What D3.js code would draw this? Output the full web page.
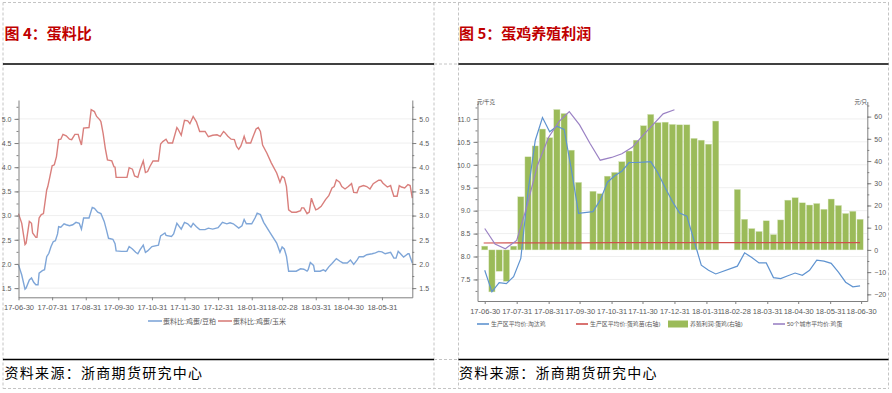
<!DOCTYPE html>
<html>
<head>
<meta charset="utf-8">
<script src="https://cdn.jsdelivr.net/npm/d3@7/dist/d3.min.js"></script>
<style>
  body { margin: 0; background: #fff; }
  svg { display: block; font-family: "Liberation Sans", "Noto Sans CJK SC", sans-serif; }
</style>
</head>
<body>
<div id="visual"></div>
<script>
// ---- data ----

// 图4 蛋料比 (daily, both on the same scale)
const soyRatio = [
  ["2017-06-30",1.98],["2017-07-03",1.77],["2017-07-06",1.48],["2017-07-07",1.50],["2017-07-10",1.67],
  ["2017-07-12",1.71],["2017-07-14",1.62],["2017-07-16",1.57],["2017-07-18",1.57],["2017-07-19",1.81],
  ["2017-07-22",1.86],["2017-07-24",1.88],["2017-07-26",2.15],["2017-07-28",2.22],["2017-07-30",2.36],
  ["2017-08-01",2.46],["2017-08-03",2.48],["2017-08-05",2.62],["2017-08-06",2.77],["2017-08-08",2.76],
  ["2017-08-11",2.83],["2017-08-13",2.81],["2017-08-16",2.79],["2017-08-19",2.81],["2017-08-22",2.86],
  ["2017-08-25",2.84],["2017-08-27",2.72],["2017-08-29",2.95],["2017-09-03",2.95],["2017-09-06",3.17],
  ["2017-09-08",3.15],["2017-09-11",3.07],["2017-09-14",3.04],["2017-09-17",2.88],["2017-09-19",2.71],
  ["2017-09-21",2.53],["2017-09-25",2.51],["2017-09-27",2.42],["2017-09-28",2.27],["2017-10-03",2.26],
  ["2017-10-08",2.26],["2017-10-10",2.36],["2017-10-13",2.31],["2017-10-16",2.24],["2017-10-18",2.21],
  ["2017-10-20",2.29],["2017-10-23",2.39],["2017-10-25",2.24],["2017-10-27",2.27],["2017-10-31",2.36],
  ["2017-11-06",2.39],["2017-11-08",2.58],["2017-11-12",2.64],["2017-11-13",2.59],["2017-11-18",2.57],
  ["2017-11-20",2.62],["2017-11-23",2.84],["2017-11-27",2.72],["2017-11-30",2.86],["2017-12-03",2.83],
  ["2017-12-06",2.76],["2017-12-08",2.84],["2017-12-11",2.77],["2017-12-14",2.71],["2017-12-19",2.71],
  ["2017-12-22",2.74],["2017-12-26",2.72],["2017-12-31",2.75],["2018-01-04",2.86],["2018-01-08",2.83],
  ["2018-01-11",2.85],["2018-01-14",2.83],["2018-01-19",2.74],["2018-01-22",2.79],["2018-01-24",2.92],
  ["2018-01-26",2.83],["2018-01-31",2.83],["2018-02-03",2.95],["2018-02-05",3.05],["2018-02-08",3.02],
  ["2018-02-11",2.86],["2018-02-17",2.64],["2018-02-23",2.43],["2018-02-26",2.24],["2018-02-28",2.35],
  ["2018-03-02",2.31],["2018-03-04",2.16],["2018-03-06",1.85],["2018-03-13",1.85],["2018-03-17",1.90],
  ["2018-03-20",1.89],["2018-03-23",1.85],["2018-03-24",1.88],["2018-03-26",2.03],["2018-03-29",1.97],
  ["2018-03-30",1.85],["2018-04-04",1.85],["2018-04-07",1.88],["2018-04-09",1.85],["2018-04-12",1.94],
  ["2018-04-15",2.01],["2018-04-19",2.11],["2018-04-22",2.06],["2018-04-25",2.02],["2018-04-29",2.02],
  ["2018-05-02",2.08],["2018-05-05",1.99],["2018-05-08",2.08],["2018-05-10",2.15],["2018-05-14",2.15],
  ["2018-05-17",2.19],["2018-05-22",2.21],["2018-05-25",2.23],["2018-05-28",2.26],["2018-05-31",2.25],
  ["2018-06-03",2.21],["2018-06-08",2.24],["2018-06-11",2.12],["2018-06-13",2.12],["2018-06-15",2.26],
  ["2018-06-18",2.19],["2018-06-20",2.14],["2018-06-24",2.21],["2018-06-25",2.21],["2018-06-28",2.02]
];
const cornRatio = [
  ["2017-06-30",3.04],["2017-07-03",2.84],["2017-07-06",2.40],["2017-07-07",2.43],["2017-07-10",2.88],
  ["2017-07-12",2.84],["2017-07-13",2.64],["2017-07-16",2.55],["2017-07-17",2.55],["2017-07-19",2.95],
  ["2017-07-21",3.02],["2017-07-23",3.04],["2017-07-26",3.53],["2017-07-27",3.60],["2017-07-29",3.81],
  ["2017-07-31",4.03],["2017-08-02",4.05],["2017-08-04",4.22],["2017-08-06",4.57],["2017-08-08",4.58],
  ["2017-08-10",4.68],["2017-08-13",4.65],["2017-08-16",4.58],["2017-08-18",4.57],["2017-08-21",4.68],
  ["2017-08-24",4.68],["2017-08-25",4.60],["2017-08-27",4.46],["2017-08-29",4.81],["2017-09-03",4.82],
  ["2017-09-05",5.19],["2017-09-08",5.15],["2017-09-10",5.05],["2017-09-13",4.98],["2017-09-14",4.94],
  ["2017-09-16",4.70],["2017-09-18",4.39],["2017-09-20",4.15],["2017-09-24",4.13],["2017-09-26",4.01],
  ["2017-09-27",4.00],["2017-09-28",3.79],["2017-10-08",3.79],["2017-10-10",3.99],["2017-10-13",3.96],
  ["2017-10-15",3.82],["2017-10-18",3.79],["2017-10-20",3.95],["2017-10-23",4.13],["2017-10-25",3.89],
  ["2017-10-27",3.91],["2017-10-29",4.01],["2017-11-01",4.13],["2017-11-06",4.13],["2017-11-08",4.48],
  ["2017-11-10",4.53],["2017-11-13",4.58],["2017-11-15",4.50],["2017-11-19",4.50],["2017-11-23",4.82],
  ["2017-11-24",4.79],["2017-11-27",4.66],["2017-11-30",4.97],["2017-12-03",4.96],["2017-12-05",4.90],
  ["2017-12-08",5.05],["2017-12-11",4.94],["2017-12-14",4.74],["2017-12-19",4.74],["2017-12-22",4.63],
  ["2017-12-26",4.66],["2017-12-30",4.67],["2018-01-02",4.64],["2018-01-05",4.74],["2018-01-06",4.72],
  ["2018-01-09",4.64],["2018-01-12",4.58],["2018-01-15",4.57],["2018-01-17",4.43],["2018-01-19",4.37],
  ["2018-01-21",4.44],["2018-01-23",4.57],["2018-01-24",4.64],["2018-01-26",4.50],["2018-01-30",4.50],
  ["2018-02-01",4.62],["2018-02-04",4.79],["2018-02-06",4.82],["2018-02-08",4.74],["2018-02-10",4.46],
  ["2018-02-14",4.29],["2018-02-18",4.09],["2018-02-23",3.88],["2018-02-26",3.69],["2018-02-28",3.81],
  ["2018-03-02",3.78],["2018-03-04",3.60],["2018-03-06",3.12],["2018-03-09",3.07],["2018-03-13",3.07],
  ["2018-03-17",3.10],["2018-03-18",3.16],["2018-03-20",3.16],["2018-03-23",3.04],["2018-03-25",3.07],
  ["2018-03-27",3.36],["2018-03-29",3.23],["2018-03-31",3.12],["2018-04-02",3.14],["2018-04-05",3.19],
  ["2018-04-09",3.33],["2018-04-12",3.41],["2018-04-15",3.57],["2018-04-17",3.60],["2018-04-19",3.74],
  ["2018-04-22",3.69],["2018-04-24",3.60],["2018-04-27",3.55],["2018-04-30",3.60],["2018-05-03",3.66],
  ["2018-05-05",3.48],["2018-05-08",3.47],["2018-05-10",3.59],["2018-05-14",3.62],["2018-05-17",3.60],
  ["2018-05-20",3.55],["2018-05-23",3.66],["2018-05-28",3.73],["2018-05-30",3.73],["2018-06-01",3.67],
  ["2018-06-05",3.59],["2018-06-08",3.62],["2018-06-09",3.54],["2018-06-11",3.40],["2018-06-14",3.40],
  ["2018-06-16",3.62],["2018-06-18",3.59],["2018-06-21",3.57],["2018-06-24",3.64],["2018-06-26",3.62],
  ["2018-06-28",3.36]
];
const ratioTicks = [1.5, 2.0, 2.5, 3.0, 3.5, 4.0, 4.5, 5.0];
const ratioLegend = ["蛋料比:鸡蛋/豆粕", "蛋料比:鸡蛋/玉米"];

const monthEnds = ["2017-06-30","2017-07-31","2017-08-31","2017-09-30","2017-10-31","2017-11-30",
  "2017-12-31","2018-01-31","2018-02-28","2018-03-31","2018-04-30","2018-05-31","2018-06-30"];

// 图5 蛋鸡养殖利润 (weekly; right axis 元/只)
const layerProfit = [
  ["2017-06-30",1.7],["2017-07-07",-18.9],["2017-07-14",-9.6],["2017-07-21",-14.1],["2017-07-28",1.7],
  ["2017-08-04",23.9],["2017-08-11",41.9],["2017-08-18",46.8],["2017-08-25",54.4],["2017-09-01",50.5],
  ["2017-09-08",63.2],["2017-09-15",61.4],["2017-09-22",44.9],["2017-09-29",30.4],["2017-10-13",26.4],
  ["2017-10-20",25.3],["2017-10-27",33.2],["2017-11-03",34.9],["2017-11-10",39.7],["2017-11-17",44.5],
  ["2017-11-24",49.4],["2017-12-01",55.9],["2017-12-08",61.0],["2017-12-15",57.3],["2017-12-22",57.5],
  ["2017-12-29",56.5],["2018-01-05",56.3],["2018-01-12",56.3],["2018-01-19",50.2],["2018-01-26",49.4],
  ["2018-02-02",47.6],["2018-02-09",58.0],["2018-03-02",27.2],["2018-03-09",13.8],["2018-03-16",9.6],
  ["2018-03-23",8.3],["2018-03-30",13.1],["2018-04-06",6.9],["2018-04-13",13.5],["2018-04-20",22.4],
  ["2018-04-27",23.5],["2018-05-04",21.2],["2018-05-11",20.2],["2018-05-18",20.9],["2018-05-25",18.3],
  ["2018-06-01",22.9],["2018-06-08",20.0],["2018-06-15",16.4],["2018-06-22",17.4],["2018-06-29",13.8]
];
// left axis 元/千克
const cullHenPrice = [
  ["2017-06-30",7.70],["2017-07-07",7.23],["2017-07-14",7.43],["2017-07-21",7.41],["2017-07-28",7.56],
  ["2017-08-04",7.96],["2017-08-11",9.42],["2017-08-18",10.53],["2017-08-25",11.03],["2017-09-01",10.72],
  ["2017-09-08",10.84],["2017-09-15",10.77],["2017-09-22",9.90],["2017-09-29",8.94],["2017-10-13",8.98],
  ["2017-10-20",9.23],["2017-10-27",9.62],["2017-11-03",9.76],["2017-11-10",9.86],["2017-11-17",10.05],
  ["2017-11-24",10.05],["2017-12-01",10.06],["2017-12-08",10.07],["2017-12-15",9.82],["2017-12-22",9.50],
  ["2017-12-29",9.20],["2018-01-05",8.95],["2018-01-12",8.88],["2018-01-19",8.35],["2018-01-26",7.81],
  ["2018-02-02",7.70],["2018-02-09",7.62],["2018-03-02",7.79],["2018-03-09",8.08],["2018-03-16",7.98],
  ["2018-03-23",7.86],["2018-03-30",7.86],["2018-04-06",7.54],["2018-04-13",7.52],["2018-04-20",7.58],
  ["2018-04-27",7.64],["2018-05-04",7.59],["2018-05-11",7.70],["2018-05-18",7.92],["2018-05-25",7.90],
  ["2018-06-01",7.85],["2018-06-08",7.66],["2018-06-15",7.44],["2018-06-22",7.34],["2018-06-29",7.36]
];
const eggPrice50 = [
  ["2017-06-30",8.61],["2017-07-10",8.27],["2017-07-20",8.17],["2017-07-31",8.35],["2017-08-10",9.10],
  ["2017-08-20",9.98],["2017-08-31",10.60],["2017-09-10",10.94],["2017-09-20",11.16],["2017-09-30",10.87],
  ["2017-10-10",10.47],["2017-10-20",10.10],["2017-10-31",10.16],["2017-11-10",10.24],["2017-11-20",10.38],
  ["2017-11-30",10.63],["2017-12-10",10.87],["2017-12-20",11.11],["2017-12-31",11.20]
];
// right axis 元/只
const chickPrice = [
  ["2017-06-29",3.1],["2017-07-31",3.2],["2017-08-31",3.2],["2017-09-29",3.2],["2017-10-31",3.3],
  ["2017-11-30",3.3],["2017-12-29",3.3],["2018-01-31",3.3],["2018-02-28",3.3],["2018-03-30",3.3],
  ["2018-04-27",3.3],["2018-05-31",3.3],["2018-06-29",3.3]
];
const priceTicks = [7.5, 8.0, 8.5, 9.0, 9.5, 10.0, 10.5, 11.0];
const profitTicks = [-20, -10, 0, 10, 20, 30, 40, 50, 60];
const profitLegend = ["生产区平均价:淘汰鸡", "生产区平均价:蛋鸡苗(右轴)", "养殖利润:蛋鸡(右轴)", "50个城市平均价:鸡蛋"];

const parse = d3.timeParse("%Y-%m-%d");
const fmtDate = d3.timeFormat("%y-%m-%d");
const toPoints = arr => arr.map(d => ({ date: parse(d[0]), value: d[1] }));

const svg = d3.select("#visual")
    .append("svg")
    .attr("width", 892)
    .attr("height", 393);

// ---- page frame: dashed table cells, black rules, titles, source ----
const dash = { stroke: "#c4c4c4", "stroke-width": 1, "stroke-dasharray": "3,2" };
const frameLines = [
    [3, 2.5, 889, 2.5], [3, 388.5, 889, 388.5],
    [3, 2.5, 3, 388.5], [434, 2.5, 434, 388.5], [458.5, 2.5, 458.5, 388.5], [888.5, 2.5, 888.5, 388.5],
    [434, 64, 458.5, 64], [434, 359.5, 458.5, 359.5]
];
frameLines.forEach(l => {
    const ln = svg.append("line").attr("x1", l[0]).attr("y1", l[1]).attr("x2", l[2]).attr("y2", l[3]);
    Object.entries(dash).forEach(([k, v]) => ln.attr(k, v));
});
[[3, 434], [458.5, 888.5]].forEach(([a, b]) => {
    [64, 359.5].forEach(y => {
        svg.append("line").attr("x1", a).attr("x2", b).attr("y1", y).attr("y2", y)
            .attr("stroke", "#000").attr("stroke-width", 1.6);
    });
});

[["图 4：蛋料比", 4.5], ["图 5：蛋鸡养殖利润", 459]].forEach(([t, x]) => {
    svg.append("text").attr("x", x).attr("y", 38.5)
        .attr("fill", "#c00000").attr("font-weight", "bold")
        .attr("font-family", "Noto Sans CJK SC").attr("font-size", 15).text(t);
});
[4.5, 459].forEach(x => {
    svg.append("text").attr("x", x).attr("y", 378)
        .attr("fill", "#000").attr("font-family", "Noto Sans CJK SC")
        .attr("font-size", 14).attr("letter-spacing", 1.3).text("资料来源：浙商期货研究中心");
});

// shared axis styling
function styleAxis(g, size) {
    g.select(".domain").attr("stroke", "#808080");
    g.selectAll(".tick line").attr("stroke", "#808080");
    g.selectAll(".tick text").attr("fill", "#595959").attr("font-size", size);
}

// ---- chart 4: 蛋料比 ----
const left = { x0: 18.5, x1: 412.3, top: 100, bottom: 297.3 };
const xL = d3.scaleTime()
    .domain([parse("2017-06-30"), parse("2018-06-28")])
    .range([left.x0, left.x1]);
const yL = d3.scaleLinear()
    .domain([1.31, 5.39])
    .range([left.bottom, left.top]);

// gridlines
svg.append("g").selectAll("line")
    .data(ratioTicks)
    .enter()
    .append("line")
    .attr("x1", left.x0).attr("x2", left.x1)
    .attr("y1", d => yL(d)).attr("y2", d => yL(d))
    .attr("stroke", "#efefef");

const ratioLine = d3.line()
    .x(d => xL(d.date))
    .y(d => yL(d.value));

svg.append("path")
    .datum(toPoints(soyRatio))
    .attr("fill", "none")
    .attr("stroke", "#7fa6d8")
    .attr("stroke-width", 1.4)
    .attr("d", ratioLine);

svg.append("path")
    .datum(toPoints(cornRatio))
    .attr("fill", "none")
    .attr("stroke", "#d97f7c")
    .attr("stroke-width", 1.4)
    .attr("d", ratioLine);

const ratioMinor = d3.range(1.5, 5.3, 0.25);
[[d3.axisLeft, left.x0], [d3.axisRight, left.x1]].forEach(([ax, x]) => {
    svg.append("g")
        .attr("transform", "translate(" + x + ",0)")
        .call(ax(yL).tickValues(ratioMinor).tickSize(2).tickSizeOuter(0).tickFormat(""))
        .call(g => styleAxis(g, 7));
    svg.append("g")
        .attr("transform", "translate(" + x + ",0)")
        .call(ax(yL).tickValues(ratioTicks).tickSize(4).tickSizeOuter(0).tickFormat(d3.format(".1f")))
        .call(g => g.select(".domain").remove())
        .call(g => styleAxis(g, 7));
});

svg.append("g")
    .attr("transform", "translate(0," + left.bottom + ")")
    .call(d3.axisBottom(xL).tickValues(monthEnds.slice(0, 12).map(parse)).tickFormat(fmtDate).tickSize(3).tickSizeOuter(0))
    .call(g => styleAxis(g, 7.5))
    .call(g => g.selectAll(".tick text").attr("dy", "0.95em"));

// legend
const ratioColors = ["#7fa6d8", "#d97f7c"];
[148, 218].forEach((x, i) => {
    svg.append("line").attr("x1", x).attr("x2", x + 14).attr("y1", 321).attr("y2", 321)
        .attr("stroke", ratioColors[i]).attr("stroke-width", 1.6);
    svg.append("text").attr("x", x + 15).attr("y", 323.5)
        .attr("font-size", 7).attr("fill", "#595959").text(ratioLegend[i]);
});

// ---- chart 5: 蛋鸡养殖利润 ----
const right = { x0: 477.5, x1: 867.3, top: 101.5, bottom: 301 };
const xR = d3.scaleTime()
    .domain([parse("2017-06-23"), parse("2018-07-06")])
    .range([right.x0, right.x1]);
const yP = d3.scaleLinear().domain([7.03, 11.38]).range([right.bottom, right.top]);
const yR = d3.scaleLinear().domain([-23, 66.8]).range([right.bottom, right.top]);

svg.append("g").selectAll("line")
    .data(priceTicks)
    .enter()
    .append("line")
    .attr("x1", right.x0).attr("x2", right.x1)
    .attr("y1", d => yP(d)).attr("y2", d => yP(d))
    .attr("stroke", "#efefef");

// bars
const barW = (xR(parse("2017-07-07")) - xR(parse("2017-06-30"))) * 0.86;
svg.append("g").selectAll("rect")
    .data(toPoints(layerProfit))
    .enter()
    .append("rect")
    .attr("x", d => xR(d.date) - barW / 2)
    .attr("width", barW)
    .attr("y", d => yR(Math.max(0, d.value)))
    .attr("height", d => Math.abs(yR(d.value) - yR(0)))
    .attr("fill", "#9bbb59")
    .attr("stroke", "#d5e3bb")
    .attr("stroke-width", 0.4);

const priceLine = d3.line().x(d => xR(d.date)).y(d => yP(d.value));
const chickLine = d3.line().x(d => xR(d.date)).y(d => yR(d.value));

svg.append("path")
    .datum(toPoints(cullHenPrice))
    .attr("fill", "none")
    .attr("stroke", "#5f93d0")
    .attr("stroke-width", 1.2)
    .attr("d", priceLine);

svg.append("path")
    .datum(toPoints(chickPrice))
    .attr("fill", "none")
    .attr("stroke", "#d0504d")
    .attr("stroke-width", 1.2)
    .attr("d", chickLine);

svg.append("path")
    .datum(toPoints(eggPrice50))
    .attr("fill", "none")
    .attr("stroke", "#9b82c4")
    .attr("stroke-width", 1.2)
    .attr("d", priceLine);

// axes
svg.append("g")
    .attr("transform", "translate(" + right.x0 + ",0)")
    .call(d3.axisLeft(yP).tickValues(d3.range(7.25, 11.3, 0.25)).tickSize(2).tickSizeOuter(0).tickFormat(""))
    .call(g => styleAxis(g, 7));
svg.append("g")
    .attr("transform", "translate(" + right.x0 + ",0)")
    .call(d3.axisLeft(yP).tickValues(priceTicks).tickSize(4).tickSizeOuter(0).tickFormat(d3.format(".1f")))
    .call(g => g.select(".domain").remove())
    .call(g => styleAxis(g, 7));

svg.append("g")
    .attr("transform", "translate(" + right.x1 + ",0)")
    .call(d3.axisRight(yR).tickValues(d3.range(-20, 66, 5)).tickSize(2).tickSizeOuter(0).tickFormat(""))
    .call(g => styleAxis(g, 7));
svg.append("g")
    .attr("transform", "translate(" + right.x1 + ",0)")
    .call(d3.axisRight(yR).tickValues(profitTicks).tickSize(4).tickSizeOuter(0))
    .call(g => g.select(".domain").remove())
    .call(g => styleAxis(g, 7));

svg.append("g")
    .attr("transform", "translate(0," + right.bottom + ")")
    .call(d3.axisBottom(xR).tickValues(monthEnds.map(parse)).tickFormat(fmtDate).tickSize(3).tickSizeOuter(0))
    .call(g => styleAxis(g, 7.5))
    .call(g => g.selectAll(".tick text").attr("dy", "0.95em"));

// unit labels
svg.append("text").attr("x", 477).attr("y", 103.5).attr("font-size", 5.5).attr("fill", "#404040").text("元/千克");
svg.append("text").attr("x", 867).attr("y", 103.5).attr("text-anchor", "end").attr("font-size", 5.5).attr("fill", "#404040").text("元/只");

// legend
const legendY = 324;
const legendItems = [
    { x: 477, kind: "line", color: "#5f93d0" },
    { x: 576, kind: "line", color: "#d0504d" },
    { x: 668, kind: "rect", color: "#9bbb59" },
    { x: 773, kind: "line", color: "#9b82c4" }
];
legendItems.forEach((it, i) => {
    if (it.kind === "line") {
        svg.append("line").attr("x1", it.x).attr("x2", it.x + 12).attr("y1", legendY).attr("y2", legendY)
            .attr("stroke", it.color).attr("stroke-width", 1.6);
    } else {
        svg.append("rect").attr("x", it.x).attr("y", legendY - 3.5).attr("width", 20).attr("height", 7)
            .attr("fill", it.color);
    }
    svg.append("text").attr("x", it.x + (it.kind === "rect" ? 22 : 14)).attr("y", legendY + 2.1)
        .attr("font-size", 5.9).attr("fill", "#595959").text(profitLegend[i]);
});
</script>
</body>
</html>
